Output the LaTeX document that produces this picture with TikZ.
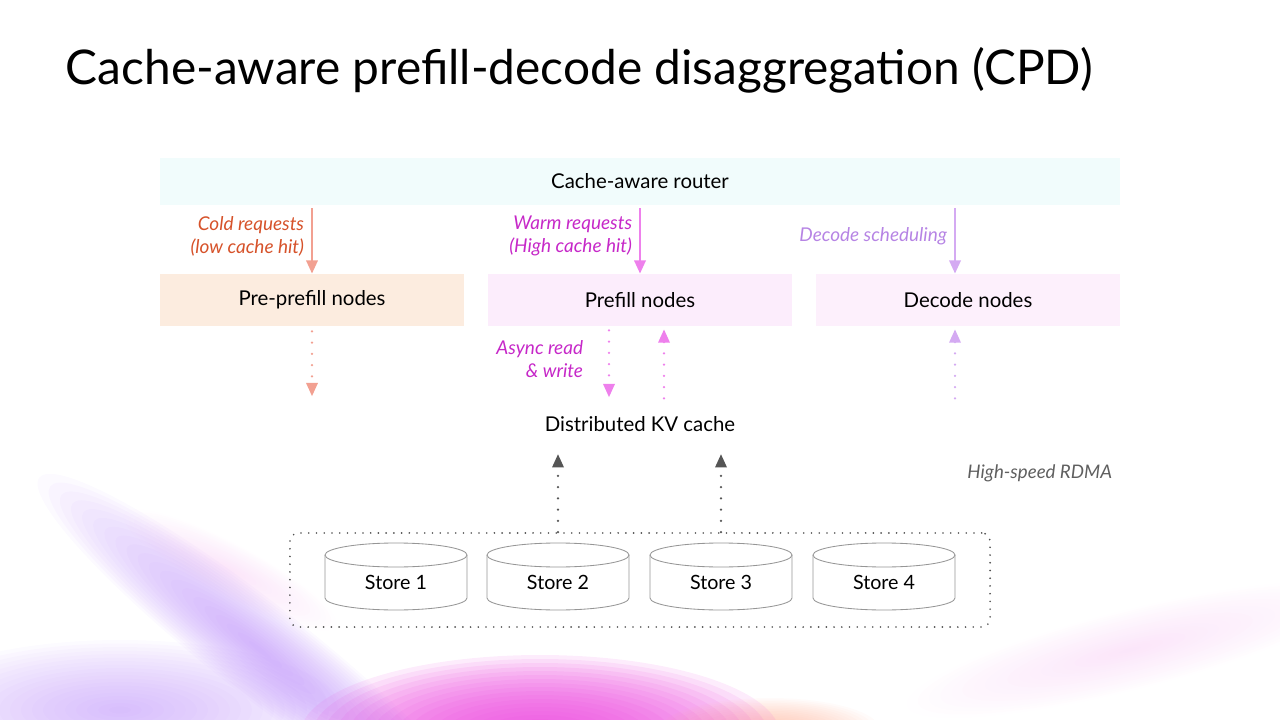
\documentclass[tikz,border=0pt]{standalone}
\usepackage{fontspec}
\setmainfont{Lato}
\usetikzlibrary{arrows.meta,positioning,fit,calc}
\definecolor{routerbg}{RGB}{241,252,252}
\definecolor{prebg}{RGB}{252,236,223}
\definecolor{pfbg}{RGB}{252,237,252}
\definecolor{decbg}{RGB}{253,240,252}
\definecolor{coldarr}{RGB}{242,160,145}
\definecolor{coldtxt}{RGB}{214,82,42}
\definecolor{warmarr}{RGB}{238,128,236}
\definecolor{warmtxt}{RGB}{198,40,200}
\definecolor{decarr}{RGB}{212,170,242}
\definecolor{dectxt}{RGB}{182,132,228}
\definecolor{rdmaarr}{RGB}{85,85,85}
\definecolor{rdmatxt}{RGB}{95,95,95}
\definecolor{storeline}{RGB}{150,150,150}
\definecolor{poolline}{RGB}{80,80,80}
\definecolor{glowmag}{RGB}{236,72,222}
\definecolor{glowpur}{RGB}{180,130,250}
\definecolor{glowpink}{RGB}{244,180,240}
\definecolor{gloworg}{RGB}{255,176,150}

\begin{document}
\begin{tikzpicture}[x=0.025cm, y=-0.025cm,
  every node/.style={font=\fontsize{14.5}{17}\selectfont},
  band/.style={fill=#1, minimum width=7.6cm, minimum height=1.3cm, inner sep=0pt},
  reqlbl/.style={anchor=east, align=right, text=#1, font=\fontsize{13.5}{16.5}\itshape\selectfont},
  solidarr/.style={draw=#1, line width=2pt, -{Triangle[width=8pt,length=9.5pt]}},
  dotarr/.style={draw=#1, line width=1.8pt, line cap=round, dash pattern=on 0pt off 8pt, -{Triangle[width=8pt,length=9.5pt]}},
  drum/.style={draw=storeline, fill=white, line width=0.6pt}]
\useasboundingbox (0,0) rectangle (1280,720);

% soft background glow, built from stacked faint ellipses
\foreach \k in {1,...,20} {
  \fill[glowpur, fill opacity=0.035] (120,710) ellipse ({11*\k} and {3.5*\k});
  \fill[glowpur, fill opacity=0.045, rotate around={-38:(260,650)}] (260,650) ellipse ({14*\k} and {2.3*\k});
  \fill[glowpink, fill opacity=0.02, rotate around={-28:(230,570)}] (230,570) ellipse ({6*\k} and {1.3*\k});
  \fill[glowmag, fill opacity=0.1] (540,735) ellipse ({12*\k} and {4*\k});
  \fill[gloworg, fill opacity=0.05] (770,730) ellipse ({5.5*\k} and {1.6*\k});
  \fill[glowpink, fill opacity=0.02, rotate around={14:(1130,650)}] (1130,650) ellipse ({11.5*\k} and {2*\k});
}

% title
\node[anchor=base west, font=\fontsize{34}{40}\selectfont] (title) at (61,85) {Cache-aware prefill-decode disaggregation (CPD)};

% router and node pools
\node[fill=routerbg, minimum width=24cm, minimum height=1.175cm] (router) at (640,181.5) {Cache-aware router};
\node[band=prebg] (pre) at (312,300) {Pre-prefill nodes};
\node[band=pfbg] (pf) at (640,300) {Prefill nodes};
\node[band=decbg] (dec) at (968,300) {Decode nodes};

\draw[solidarr=coldarr] ($(router.south -| pre)+(0,3)$) -- (pre.north);
\draw[solidarr=warmarr] ($(router.south -| pf)+(0,3)$) -- (pf.north);
\draw[solidarr=decarr] ($(router.south -| dec)+(-13,3)$) -- ($(dec.north)+(-13,0)$);

\node[reqlbl=coldtxt] (cold) at (309,236) {Cold requests\\(low cache hit)};
\node[reqlbl=warmtxt] (warm) at (637,236) {Warm requests\\(High cache hit)};
\node[reqlbl=dectxt] (sched) at (952,236) {Decode scheduling};

% KV cache traffic
\node (kv) at (640,424) {Distributed KV cache};
\coordinate (preout) at ($(pre.south)+(0,70)$);
\draw[dotarr=coldarr] ($(pre.south)+(0,5)$) -- (preout);
\draw[dotarr=warmarr] ($(pf.south)+(-31,4)$) -- ($(pf.south)+(-31,71)$);
\draw[dotarr=warmarr] ($(pf.south)+(24,72)$) -- ($(pf.south)+(24,3)$);
\draw[dotarr=decarr] ($(dec.south)+(-13,72)$) -- ($(dec.south)+(-13,3)$);
\node[reqlbl=warmtxt] (async) at (588,359) {Async read\\\& write};

% storage
\node[draw=poolline, line width=1.3pt, dash pattern=on 0pt off 5.5pt, line cap=round, rounded corners=6pt, minimum width=17.5cm, minimum height=2.35cm] (pool) at (640,580) {};
\foreach \i/\x in {1/396,2/558,3/721,4/884} {
  \draw[drum] (\x-71,555) -- (\x-71,598) arc[start angle=180, end angle=0, x radius=71, y radius=12] -- (\x+71,555);
  \draw[drum] (\x,555) ellipse (71 and 12);
  \node[font=\fontsize{14}{17}\selectfont] (s\i) at (\x,582) {Store \i};
}
\draw[dotarr=rdmaarr] (s2 |- pool.north) -- ($(s2 |- pool.north)+(0,-78)$);
\draw[dotarr=rdmaarr] (s3 |- pool.north) -- ($(s3 |- pool.north)+(0,-78)$);
\node[anchor=east, text=rdmatxt, font=\fontsize{13.3}{16}\itshape\selectfont] (rdma) at (1117,473) {High-speed RDMA};
\end{tikzpicture}
\end{document}
